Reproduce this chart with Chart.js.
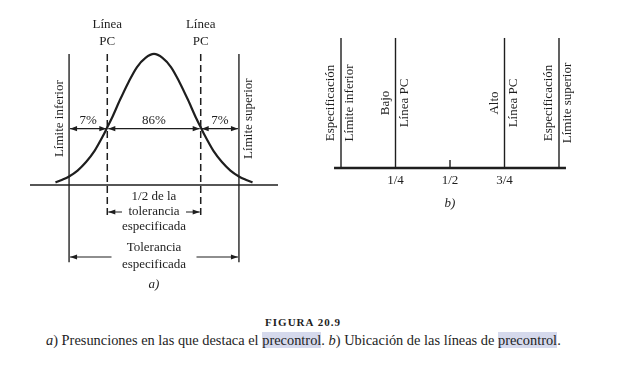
<!DOCTYPE html>
<html lang="es">
<head>
<meta charset="UTF-8">
<title>Figura 20.9 - Precontrol</title>
<style>
  html, body { margin: 0; padding: 0; background: #fff; }
  body { width: 637px; height: 366px; position: relative; overflow: hidden;
         font-family: "Liberation Serif", "Times New Roman", serif; color: #1e1e1e; }
  #chartA { position: absolute; left: 30px; top: 0; }
  #chartB { position: absolute; left: 308px; top: 0; }
  #figTitle { position: absolute; left: 0; width: 606px; top: 316px; text-align: center;
              font-size: 11px; font-weight: bold; letter-spacing: 1px; }
  #figText { position: absolute; left: 46px; top: 332px; font-size: 14.4px; white-space: nowrap; }
  .hl { background: #d5d9ec; }
</style>
</head>
<body>
<canvas id="chartA" width="248" height="300"></canvas>
<canvas id="chartB" width="284" height="230"></canvas>
<div id="figTitle">FIGURA 20.9</div>
<div id="figText"><i>a</i>) Presunciones en las que destaca el <span class="hl">precontrol</span>. <i>b</i>) Ubicación de las líneas de <span class="hl">precontrol</span>.</div>
<script src="https://cdn.jsdelivr.net/npm/chart.js"></script>
<script>
// ---- panel a) data (x in half-tolerance units, y as share of the peak) ----
const curveX = [-1.16, -1.08, -1.0, -0.9, -0.8, -0.7, -0.6, -0.55, -0.5, -0.4, -0.3, -0.2, -0.1, 0,
                0.1, 0.2, 0.3, 0.4, 0.5, 0.55, 0.6, 0.7, 0.8, 0.9, 1.0, 1.08, 1.16];
const curveY = [0.02, 0.04, 0.065, 0.11, 0.175, 0.26, 0.375, 0.44, 0.505, 0.65, 0.785, 0.9, 0.97, 1.0,
                0.97, 0.9, 0.785, 0.65, 0.505, 0.44, 0.375, 0.26, 0.175, 0.11, 0.065, 0.04, 0.02];
const specLimits = [-1, 1];
const pcLines = [-0.55, 0.55];
const zoneBounds = [-1, -0.55, 0.55, 1];
const zoneLabels = ['7%', '86%', '7%'];
const limitLabels = ['Límite inferior', 'Límite superior'];

// ---- panel b) data (x as fraction of the tolerance) ----
const bLines = [0, 0.25, 0.75, 1];
const bLeftLabels = ['Especificación', 'Bajo', 'Alto', 'Especificación'];
const bRightLabels = ['Límite inferior', 'Línea PC', 'Línea PC', 'Límite superior'];
const bTickValues = [0.25, 0.5, 0.75];
const bTickLabels = ['1/4', '1/2', '3/4'];

const INK = '#1e1e1e';
const FONT = '13px "Liberation Serif", "Times New Roman", serif';
const IFONT = 'italic 13px "Liberation Serif", "Times New Roman", serif';

function seg(x1, y1, x2, y2, opts) {
  return Object.assign({
    data: [{ x: x1, y: y1 }, { x: x2, y: y2 }],
    showLine: true, pointRadius: 0, borderColor: INK, borderWidth: 1.5, fill: false
  }, opts || {});
}

function head(ctx, x, y, dir) {
  ctx.beginPath();
  ctx.moveTo(x, y);
  ctx.lineTo(x - dir * 7, y - 2.6);
  ctx.lineTo(x - dir * 7, y + 2.6);
  ctx.closePath();
  ctx.fill();
}

// double arrow, with optional blank gap in the middle
function arrow(ctx, x1, x2, y, gap) {
  ctx.beginPath();
  if (gap) {
    const m = (x1 + x2) / 2;
    ctx.moveTo(x1, y); ctx.lineTo(m - gap / 2, y);
    ctx.moveTo(m + gap / 2, y); ctx.lineTo(x2, y);
  } else {
    ctx.moveTo(x1, y); ctx.lineTo(x2, y);
  }
  ctx.stroke();
  head(ctx, x1, y, -1);
  head(ctx, x2, y, 1);
}

function text(ctx, s, x, y, font) {
  ctx.font = font || FONT;
  ctx.textAlign = 'center';
  ctx.textBaseline = 'middle';
  ctx.fillText(s, x, y);
}

function vtext(ctx, s, x, y) {
  ctx.save();
  ctx.translate(x, y);
  ctx.rotate(-Math.PI / 2);
  text(ctx, s, 0, 0);
  ctx.restore();
}

const baseOptions = (xmin, xmax, ymin, ymax) => ({
  responsive: false,
  animation: false,
  devicePixelRatio: 1,
  layout: { padding: 0 },
  plugins: { legend: { display: false }, tooltip: { enabled: false } },
  scales: {
    x: { type: 'linear', min: xmin, max: xmax, display: false },
    y: { type: 'linear', min: ymin, max: ymax, display: false }
  }
});

// ================= panel a) =================
const A_TOP = 1.0, LIM_BOTTOM = -0.59, PC_BOTTOM = -0.23, ROW_Y = 0.43;

const annotA = {
  id: 'annotA',
  afterDatasetsDraw(chart) {
    const { ctx, scales: { x, y } } = chart;
    ctx.save();
    ctx.fillStyle = INK; ctx.strokeStyle = INK; ctx.lineWidth = 1.2;
    const top = y.getPixelForValue(A_TOP);
    pcLines.forEach(v => {
      text(ctx, 'Línea', x.getPixelForValue(v), top - 29);
      text(ctx, 'PC', x.getPixelForValue(v), top - 12);
    });
    const row = y.getPixelForValue(ROW_Y);
    zoneLabels.forEach((s, i) => {
      const a = x.getPixelForValue(zoneBounds[i]), b = x.getPixelForValue(zoneBounds[i + 1]);
      arrow(ctx, a + 1, b - 1, row);
      text(ctx, s, (a + b) / 2, row - 8);
    });
    vtext(ctx, limitLabels[0], x.getPixelForValue(specLimits[0]) - 9, row - 10);
    vtext(ctx, limitLabels[1], x.getPixelForValue(specLimits[1]) + 10, row - 10);

    const base = y.getPixelForValue(0);
    const p1 = x.getPixelForValue(pcLines[0]), p2 = x.getPixelForValue(pcLines[1]);
    const cx = (p1 + p2) / 2;
    text(ctx, '1/2 de la', cx, base + 12);
    text(ctx, 'tolerancia', cx, base + 27);
    arrow(ctx, p1 + 1, p2 - 1, base + 27, 64);
    text(ctx, 'especificada', cx, base + 42);

    const l1 = x.getPixelForValue(specLimits[0]), l2 = x.getPixelForValue(specLimits[1]);
    text(ctx, 'Tolerancia', (l1 + l2) / 2, base + 63);
    arrow(ctx, l1 + 1, l2 - 1, base + 72, 85);
    text(ctx, 'especificada', (l1 + l2) / 2, base + 80);
    text(ctx, 'a)', (l1 + l2) / 2, base + 100, IFONT);
    ctx.restore();
  }
};

new Chart(document.getElementById('chartA'), {
  type: 'scatter',
  data: {
    datasets: [
      seg(-1.46, 0, 1.46, 0, { borderWidth: 1.4 }),
      {
        data: curveX.map((v, i) => ({ x: v, y: curveY[i] })),
        showLine: true, pointRadius: 0, borderColor: INK, borderWidth: 2.2,
        cubicInterpolationMode: 'monotone', fill: false
      },
      ...specLimits.map(v => seg(v, A_TOP, v, LIM_BOTTOM, { borderColor: '#333' })),
      ...pcLines.map(v => seg(v, A_TOP, v, PC_BOTTOM, { borderDash: [7, 4] }))
    ]
  },
  options: baseOptions(-1.46, 1.46, -0.878, 1.412),
  plugins: [annotA]
});

// ================= panel b) =================
const annotB = {
  id: 'annotB',
  afterDatasetsDraw(chart) {
    const { ctx, scales: { x, y } } = chart;
    ctx.save();
    ctx.fillStyle = INK;
    const mid = y.getPixelForValue(0.5);
    bLines.forEach((v, i) => {
      const px = x.getPixelForValue(v);
      vtext(ctx, bLeftLabels[i], px - 10, mid);
      vtext(ctx, bRightLabels[i], px + 9, mid);
    });
    const base = y.getPixelForValue(0);
    bTickValues.forEach((v, i) => text(ctx, bTickLabels[i], x.getPixelForValue(v), base + 13));
    text(ctx, 'b)', x.getPixelForValue(0.5), base + 36, IFONT);
    ctx.restore();
  }
};

new Chart(document.getElementById('chartB'), {
  type: 'scatter',
  data: {
    datasets: [
      seg(-0.032, 0, 1.032, 0, { borderWidth: 2.6 }),
      ...bLines.map(v => seg(v, 0, v, 1, { borderWidth: 1.4 })),
      seg(0.5, 0, 0.5, 0.062, { borderWidth: 1.4 })
    ]
  },
  options: baseOptions(-0.1514, 1.1514, -0.477, 1.292),
  plugins: [annotB]
});
</script>
</body>
</html>
